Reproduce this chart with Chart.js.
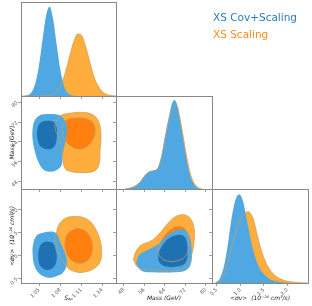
<!DOCTYPE html>
<html>
<head>
<meta charset="utf-8">
<script src="https://cdn.jsdelivr.net/npm/chart.js@4.4.0/dist/chart.umd.min.js"></script>
<style>
  body { margin: 0; background: #fff; }
  #fig { position: relative; width: 312px; height: 306px; }
  #fig canvas { position: absolute; left: 0; top: 0; width: 312px; height: 306px; }
  .leg { position: absolute; left: 213px; font: 10.5px "DejaVu Sans"; line-height: 12px; white-space: nowrap; }
</style>
</head>
<body>
<div id="fig">
  <canvas id="p11" width="312" height="306"></canvas>
  <canvas id="p21" width="312" height="306"></canvas>
  <canvas id="p22" width="312" height="306"></canvas>
  <canvas id="p31" width="312" height="306"></canvas>
  <canvas id="p32" width="312" height="306"></canvas>
  <canvas id="p33" width="312" height="306"></canvas>
  <div class="leg" style="top:11px;color:#2b7cbf">XS Cov+Scaling</div>
  <div class="leg" style="top:28px;color:#ff8a1f">XS Scaling</div>
</div>
<script>
// axis ranges and tick labels
const sapRange = [1.024, 1.16];
const massRange = [45, 82.5];
const sigRange = [0.4, 2.44];
const sapTicks = [1.05, 1.08, 1.11, 1.14];
const massTicks = [48, 56, 64, 72, 80];
const sigTicks = [0.5, 1.0, 1.5, 2.0];

// 1D marginals (peak-normalised density)
const sapGrid = [1.025, 1.030, 1.035, 1.040, 1.045, 1.050, 1.055, 1.060, 1.065, 1.070, 1.075, 1.080, 1.085, 1.090,
  1.095, 1.100, 1.105, 1.110, 1.115, 1.120, 1.125, 1.130, 1.135, 1.140, 1.145, 1.150, 1.155, 1.160];
const sapBlue = [0, 0.003, 0.013, 0.050, 0.148, 0.339, 0.611, 0.860, 0.949, 0.819, 0.554, 0.292, 0.121, 0.039,
  0.010, 0.002, 0, 0, 0, 0, 0, 0, 0, 0, 0, 0, 0, 0];
const sapOrange = [0, 0, 0, 0, 0, 0, 0.001, 0.002, 0.007, 0.020, 0.049, 0.104, 0.194, 0.319,
  0.462, 0.589, 0.660, 0.652, 0.567, 0.433, 0.292, 0.175, 0.100, 0.050, 0.022, 0.009, 0.003, 0.001];

const massGrid = [48.5, 51.8, 54.4, 56.3, 58.3, 60.2, 61.5, 62.8, 64.1, 65.4, 66.7, 67.7, 68.7, 70.0, 71.3, 72.6, 73.9, 75.2, 77.1, 78.5];
const massBlue = [0, 0.025, 0.079, 0.15, 0.194, 0.204, 0.24, 0.366, 0.563, 0.742, 0.903, 0.957, 0.921, 0.742, 0.527, 0.312, 0.15, 0.061, 0.007, 0];
const massOrange = [0, 0.022, 0.072, 0.14, 0.185, 0.195, 0.228, 0.345, 0.53, 0.70, 0.85, 0.895, 0.90, 0.76, 0.56, 0.35, 0.18, 0.08, 0.015, 0];

const sigBlueX = [0.463, 0.569, 0.675, 0.745, 0.816, 0.886, 0.978, 1.063, 1.133, 1.204, 1.274, 1.380, 1.486, 1.627, 1.804, 2.015];
const sigBlueY = [0, 0.05, 0.227, 0.44, 0.688, 0.865, 0.943, 0.865, 0.688, 0.51, 0.351, 0.191, 0.103, 0.043, 0.014, 0];
const sigOrangeX = [0.50, 0.569, 0.675, 0.816, 0.921, 1.027, 1.098, 1.168, 1.274, 1.345, 1.415, 1.521, 1.662, 1.873, 2.156, 2.43];
const sigOrangeY = [0, 0.014, 0.12, 0.369, 0.582, 0.705, 0.745, 0.759, 0.688, 0.546, 0.404, 0.245, 0.12, 0.039, 0.007, 0];

// 2D credible contours (68% and 95%)
const sapMassBlue95 = [[1.0608,75.2],[1.0727,75.1],[1.0822,74.2],[1.0884,71.5],[1.0894,67.4],[1.087,63.4],[1.0837,58.7],[1.0822,54.7],[1.0751,52.7],[1.0655,52.0],[1.0559,52.9],[1.0488,56.0],[1.044,60.0],[1.0407,64.8],[1.0407,69.5],[1.044,72.8],[1.0512,74.7]];
const sapMassBlue68 = [[1.0584,72.5],[1.0703,72.1],[1.0751,69.5],[1.0751,65.4],[1.0717,62.1],[1.0645,61.0],[1.0536,61.8],[1.0479,64.8],[1.0473,68.8],[1.0512,71.5]];
const sapMassOrange95 = [[1.0917,75.5],[1.1109,75.9],[1.1275,74.8],[1.1361,71.5],[1.1385,66.1],[1.1371,60.0],[1.1361,55.4],[1.1299,52.4],[1.1132,51.6],[1.0966,52.0],[1.087,53.3],[1.0837,58.0],[1.0827,62.1],[1.0774,66.1],[1.0727,69.5],[1.0751,72.8],[1.0822,74.8]];
const sapMassOrange68 = [[1.0941,73.5],[1.1156,73.5],[1.1275,71.5],[1.1304,68.1],[1.1266,64.8],[1.1181,62.1],[1.1075,61.0],[1.0966,62.1],[1.087,64.8],[1.0831,68.8],[1.086,71.9]];

const sapSigBlue95 = [[1.0536,1.484],[1.0655,1.519],[1.0741,1.484],[1.0798,1.301],[1.087,1.048],[1.0894,0.830],[1.0846,0.633],[1.0727,0.538],[1.0631,0.516],[1.0512,0.589],[1.0436,0.756],[1.0407,1.011],[1.0416,1.265],[1.0465,1.432]];
const sapSigBlue68 = [[1.0608,1.301],[1.0694,1.266],[1.0741,1.083],[1.0751,0.902],[1.0703,0.734],[1.0608,0.684],[1.0522,0.756],[1.0488,0.939],[1.0502,1.157],[1.0545,1.266]];
const sapSigOrange95 = [[1.0989,1.846],[1.1132,1.824],[1.1238,1.724],[1.1314,1.556],[1.1371,1.338],[1.1395,1.083],[1.1371,0.851],[1.1275,0.705],[1.1132,0.633],[1.1013,0.646],[1.0917,0.721],[1.0846,0.865],[1.0784,1.048],[1.0741,1.266],[1.0751,1.519],[1.0798,1.702],[1.0884,1.811]];
const sapSigOrange68 = [[1.1037,1.593],[1.1156,1.534],[1.1238,1.375],[1.1266,1.157],[1.1238,0.974],[1.1156,0.851],[1.106,0.830],[1.0952,0.902],[1.0884,1.083],[1.087,1.301],[1.0917,1.484]];

const massSigBlue95 = [[52.8,0.830],[54.1,1.011],[57.6,1.120],[61.5,1.244],[65.4,1.447],[69.3,1.556],[72.3,1.534],[73.9,1.375],[74.6,1.083],[74.3,0.830],[72.3,0.677],[67.4,0.633],[59.6,0.633],[55.0,0.668]];
const massSigBlue68 = [[64.8,1.338],[68.0,1.432],[71.1,1.432],[72.6,1.301],[73.0,1.048],[72.0,0.830],[68.7,0.756],[64.8,0.756],[62.2,0.830],[61.5,0.974],[62.5,1.157]];
const massSigOrange95 = [[51.8,0.902],[52.8,1.083],[55.0,1.229],[58.3,1.301],[61.5,1.447],[64.8,1.665],[68.0,1.833],[71.3,1.883],[73.9,1.811],[75.5,1.593],[75.5,1.301],[74.6,1.011],[73.2,0.793],[70.0,0.684],[64.8,0.662],[58.3,0.684],[53.7,0.734]];
const massSigOrange68 = [[68.0,1.628],[71.3,1.606],[73.0,1.447],[73.2,1.157],[72.0,0.974],[68.7,0.880],[64.8,0.880],[62.2,0.974],[61.5,1.120],[62.5,1.301],[64.8,1.484]];

const BLUE_LIGHT = '#50a8e2';
const BLUE_DARK = '#1f72b2';
const ORANGE_LIGHT = '#ffad3d';
const ORANGE_DARK = '#ff800f';
const TAN = 'rgba(200,158,92,0.9)';

// panel grid edges (chart areas)
const W = 312, H = 306;
const cols = [21, 116, 212, 308];
const rows = [2, 96, 189, 283];

const tickFont = { family: 'DejaVu Sans', size: 5 };
const titleFont = { family: 'DejaVu Sans', size: 6, style: 'italic' };
const axisSize = new Map();

function axis(pos, range, ticks, digits, labels, title) {
  const horiz = pos === 'bottom';
  const size = labels ? (horiz ? 19 : 12) : 3;
  const cfg = {
    type: 'linear', position: pos, min: range[0], max: range[1],
    afterBuildTicks: s => { s.ticks = ticks.map(v => ({ value: v })); },
    afterFit: s => { if (horiz) s.height = size; else s.width = size; },
    ticks: {
      display: labels, font: tickFont, color: '#555', padding: 1,
      minRotation: 45, maxRotation: 45, autoSkip: false,
      callback: v => Number(v).toFixed(digits)
    },
    grid: { drawOnChartArea: false, tickLength: 3, tickColor: '#888', tickWidth: 0.8 },
    border: { display: false },
    title: { display: !!title, text: title || '', font: titleFont, color: '#222', padding: 0 }
  };
  axisSize.set(cfg, size);
  return cfg;
}

function density() {
  return { type: 'linear', display: false, min: 0, max: 1 };
}

function shape(pairs) {
  return pairs.concat([pairs[0]]).map(p => ({ x: p[0], y: p[1] }));
}

function curve(xs, ys) {
  return xs.map((x, i) => ({ x: x, y: ys[i] }));
}

function contourSets(b95, b68, o95, o68) {
  return [
    { data: shape(o95), backgroundColor: ORANGE_LIGHT, fill: 'shape', order: 6 },
    { data: shape(o68), backgroundColor: ORANGE_DARK, fill: 'shape', order: 5 },
    { data: shape(b95), backgroundColor: BLUE_LIGHT, fill: 'shape', order: 4 },
    { data: shape(b68), backgroundColor: BLUE_DARK, fill: 'shape', order: 3 },
    { data: shape(o95), borderColor: TAN, borderWidth: 0.8, fill: false, order: 2 },
    { data: shape(o68), borderColor: TAN, borderWidth: 0.8, fill: false, order: 1 }
  ].map(d => Object.assign({ showLine: true, pointRadius: 0, tension: 0.4, borderWidth: 0, borderColor: 'rgba(0,0,0,0)' }, d));
}

function marginalSets(blue, orange) {
  return [
    { data: orange, backgroundColor: ORANGE_LIGHT, fill: 'origin', order: 3 },
    { data: blue, backgroundColor: BLUE_LIGHT, fill: 'origin', order: 2 },
    { data: orange, borderColor: TAN, borderWidth: 0.8, fill: false, order: 1 }
  ].map(d => Object.assign({ showLine: true, pointRadius: 0, cubicInterpolationMode: 'monotone', borderWidth: 0, borderColor: 'rgba(0,0,0,0)' }, d));
}

const frame = {
  id: 'frame',
  afterDraw(chart) {
    const a = chart.chartArea, c = chart.ctx;
    c.save();
    c.strokeStyle = '#888';
    c.lineWidth = 1;
    c.strokeRect(a.left + 0.5, a.top + 0.5, a.right - a.left, a.bottom - a.top);
    c.restore();
  }
};

function panel(id, col, row, scales, datasets) {
  const xH = axisSize.get(scales.x) || 0;
  let yW = 0;
  Object.values(scales).forEach(s => {
    if (s.position === 'left' && s.display !== false) yW = Math.max(yW, axisSize.get(s) || 0);
  });
  new Chart(document.getElementById(id), {
    type: 'scatter',
    data: { datasets: datasets },
    options: {
      responsive: false,
      animation: false,
      devicePixelRatio: 1,
      layout: { padding: { left: cols[col] - yW, top: rows[row], right: W - cols[col + 1], bottom: H - rows[row + 1] - xH } },
      plugins: { legend: { display: false }, tooltip: { enabled: false } },
      scales: scales
    },
    plugins: [frame]
  });
}

panel('p11', 0, 0, {
  x: axis('bottom', sapRange, sapTicks, 2, false),
  y: density()
}, marginalSets(curve(sapGrid, sapBlue), curve(sapGrid, sapOrange)));

panel('p21', 0, 1, {
  x: axis('bottom', sapRange, sapTicks, 2, false),
  y: axis('left', massRange, massTicks, 0, true, 'Mass (GeV)')
}, contourSets(sapMassBlue95, sapMassBlue68, sapMassOrange95, sapMassOrange68));

panel('p22', 1, 1, {
  x: axis('bottom', massRange, massTicks, 0, false),
  y: density(),
  ym: axis('left', massRange, massTicks, 0, false)
}, marginalSets(curve(massGrid, massBlue), curve(massGrid, massOrange)));

panel('p31', 0, 2, {
  x: axis('bottom', sapRange, sapTicks, 2, true, 'Sₐₚ'),
  y: axis('left', sigRange, sigTicks, 1, true, '<σv>  (10⁻²⁶ cm³/s)')
}, contourSets(sapSigBlue95, sapSigBlue68, sapSigOrange95, sapSigOrange68));

panel('p32', 1, 2, {
  x: axis('bottom', massRange, massTicks, 0, true, 'Mass (GeV)'),
  y: axis('left', sigRange, sigTicks, 1, false)
}, contourSets(massSigBlue95, massSigBlue68, massSigOrange95, massSigOrange68));

panel('p33', 2, 2, {
  x: axis('bottom', sigRange, sigTicks, 1, true, '<σv>  (10⁻²⁶ cm³/s)'),
  y: density(),
  yt: axis('left', sigRange, sigTicks, 1, false)
}, marginalSets(curve(sigBlueX, sigBlueY), curve(sigOrangeX, sigOrangeY)));
</script>
</body>
</html>
